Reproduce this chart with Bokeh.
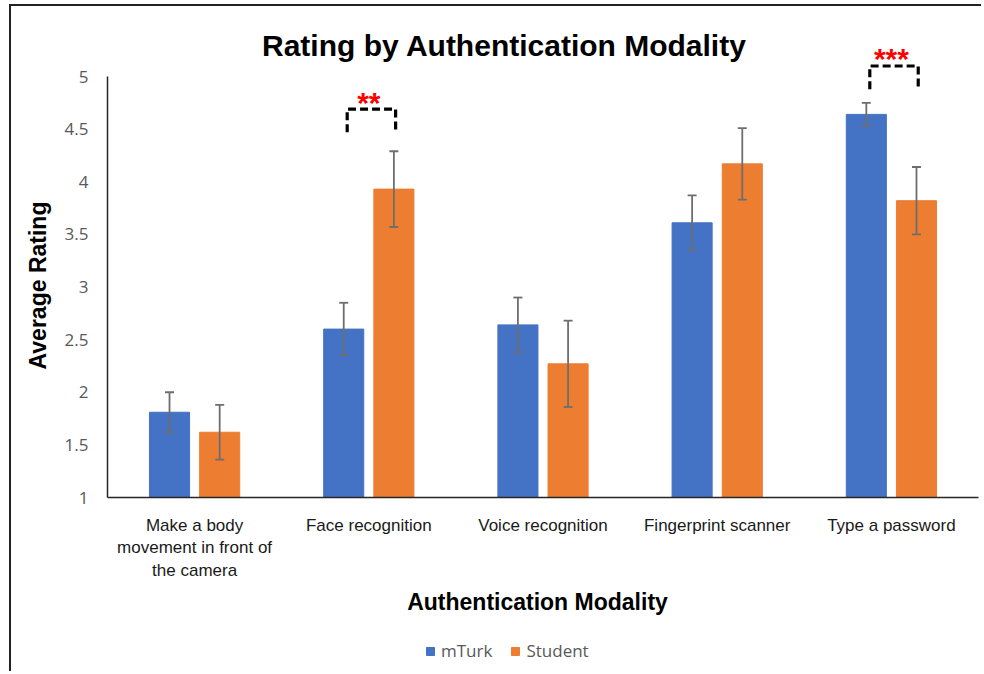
import numpy as np
from bokeh.plotting import figure
from bokeh.models import (Range1d, FixedTicker, Whisker, TeeHead, Label, Legend,
                          LegendItem, ColumnDataSource)
from bokeh.embed import file_html
from bokeh.resources import INLINE
from bokeh.core.properties import value

# ---------------- data ----------------
categories = ["Make a body\nmovement in front of\nthe camera", "Face recognition",
              "Voice recognition", "Fingerprint scanner", "Type a password"]
mturk_mean = [1.81, 2.60, 2.64, 3.61, 4.64]
mturk_err = [0.19, 0.25, 0.26, 0.26, 0.11]
student_mean = [1.62, 3.93, 2.27, 4.17, 3.82]
student_err = [0.26, 0.36, 0.41, 0.34, 0.32]
y_ticks = [1, 1.5, 2, 2.5, 3, 3.5, 4, 4.5, 5]
series_names = ["mTurk", "Student"]
sig_index = [1, 4]
sig_labels = ["**", "***"]
sig_level = [4.69, 5.10]

BLUE = "#4472C4"
ORANGE = "#ED7D31"
TICK_FONT = "Open Sans"
HEAD_FONT = "Liberation Sans"

n = len(categories)
centers = np.arange(n) + 0.5
off = 0.144
bw = 0.23
xm = centers - off
xs = centers + off

# layout: the frame covers the whole canvas; axes are pinned inside it
W, H = 972, 667
PX_X = 871 / n          # pixels per category
PX_Y = 421 / 4          # pixels per rating unit
LEFT_PAD, TOP_PAD = 96, 70
BOTTOM_PAD = H - TOP_PAD - 421
x0 = -LEFT_PAD / PX_X
x1 = n + (W - LEFT_PAD - 871) / PX_X
y0 = 1 - BOTTOM_PAD / PX_Y
y1 = 5 + TOP_PAD / PX_Y

p = figure(width=W, height=H, output_backend="svg", toolbar_location=None,
           x_range=Range1d(x0, x1), y_range=Range1d(y0, y1),
           min_border_left=0, min_border_right=0, min_border_top=0,
           min_border_bottom=0)
p.margin = (4, 0, 0, 9)
p.styles = {"border-top": "2px solid #222", "border-left": "2px solid #222"}
p.outline_line_color = None
p.xgrid.visible = False
p.ygrid.visible = False

src_m = ColumnDataSource(dict(x=xm, top=mturk_mean,
                              lo=np.array(mturk_mean) - np.array(mturk_err),
                              hi=np.array(mturk_mean) + np.array(mturk_err)))
src_s = ColumnDataSource(dict(x=xs, top=student_mean,
                              lo=np.array(student_mean) - np.array(student_err),
                              hi=np.array(student_mean) + np.array(student_err)))

r_m = p.vbar(x="x", top="top", bottom=1, width=bw, source=src_m,
             fill_color=BLUE, line_color=BLUE)
r_s = p.vbar(x="x", top="top", bottom=1, width=bw, source=src_s,
             fill_color=ORANGE, line_color=ORANGE)

for src in (src_m, src_s):
    w = Whisker(base="x", lower="lo", upper="hi", source=src,
                line_color="#6e6e6e", line_width=1.8, level="overlay",
                upper_head=TeeHead(size=9, line_color="#6e6e6e", line_width=1.8),
                lower_head=TeeHead(size=9, line_color="#6e6e6e", line_width=1.8))
    p.add_layout(w)

# significance brackets
leg = 0.22
bx, by = [], []
for i, lvl in zip(sig_index, sig_level):
    bx.append([xm[i] + 0.02, xm[i] + 0.02, xs[i] + 0.01, xs[i] + 0.01])
    by.append([lvl - leg, lvl, lvl, lvl - leg])
p.multi_line(xs=bx, ys=by, line_color="black", line_width=3.2, line_dash="8 4",
             line_join="round", line_cap="butt")
p.text(x=[centers[i] for i in sig_index], y=sig_level, text=sig_labels,
       text_align="center", text_baseline="alphabetic", y_offset=-7,
       text_color="#FF0000", text_font=value(HEAD_FONT), text_font_style="bold",
       text_font_size="30px")

# axes (pinned at x=0 and y=1)
p.xaxis.fixed_location = 1
p.xaxis.bounds = (0, n)
p.xaxis.ticker = FixedTicker(ticks=list(centers))
p.xaxis.major_label_overrides = {float(c): lab for c, lab in zip(centers, categories)}
p.xaxis.major_tick_line_color = None
p.xaxis.minor_tick_line_color = None
p.xaxis.axis_line_color = "#262626"
p.xaxis.axis_line_width = 1.5
p.xaxis.major_label_standoff = 12
p.xaxis.major_label_text_font = HEAD_FONT
p.xaxis.major_label_text_font_size = "17px"
p.xaxis.major_label_text_color = "#1a1a1a"

p.yaxis.fixed_location = 0
p.yaxis.bounds = (1, 5)
p.yaxis.ticker = FixedTicker(ticks=y_ticks)
p.yaxis.major_tick_line_color = None
p.yaxis.minor_tick_line_color = None
p.yaxis.axis_line_color = "#262626"
p.yaxis.axis_line_width = 1.5
p.yaxis.major_label_standoff = 13
p.yaxis.major_label_text_font = TICK_FONT
p.yaxis.major_label_text_font_size = "17px"
p.yaxis.major_label_text_color = "#595959"

# titles
p.add_layout(Label(x=(504 - 107) / PX_X, y=5 + 31 / PX_Y,
                   text="Rating by Authentication Modality",
                   text_align="center", text_baseline="middle",
                   text_font=HEAD_FONT, text_font_style="bold",
                   text_font_size="30px", text_color="black"))
p.add_layout(Label(x=(37 - 107) / PX_X, y=1 + 212 / PX_Y, text="Average Rating",
                   angle=np.pi / 2, text_align="center", text_baseline="middle",
                   text_font=HEAD_FONT, text_font_style="bold",
                   text_font_size="23px", text_color="black"))
p.add_layout(Label(x=(537 - 107) / PX_X, y=1 - 104 / PX_Y,
                   text="Authentication Modality",
                   text_align="center", text_baseline="middle",
                   text_font=HEAD_FONT, text_font_style="bold",
                   text_font_size="23px", text_color="black"))

legend = Legend(items=[LegendItem(label=series_names[0], renderers=[r_m]),
                       LegendItem(label=series_names[1], renderers=[r_s])],
                orientation="horizontal", location=(414, BOTTOM_PAD - 165),
                glyph_width=10, glyph_height=10, label_standoff=6, spacing=18,
                padding=0, margin=0, border_line_color=None,
                background_fill_alpha=0,
                label_text_font=TICK_FONT, label_text_font_size="17px",
                label_text_color="#595959")
p.add_layout(legend)

open("out.html", "w").write(file_html(p, INLINE))
